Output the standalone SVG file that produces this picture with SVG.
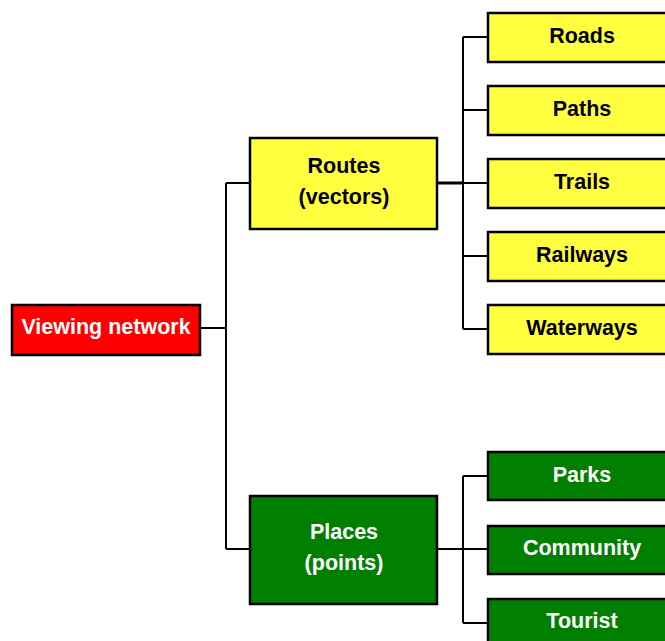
<svg xmlns="http://www.w3.org/2000/svg" width="665" height="641" viewBox="0 0 665 641">
<style>
.box{stroke:#000;stroke-width:2.5}
.y{fill:#FFFF40}
.r{fill:#FF0000}
.g{fill:#007F00}
text{font-family:"Liberation Sans",Arial,sans-serif;font-weight:bold;font-size:21.5px;text-anchor:middle}
.dk{fill:#000}
.wt{fill:#fff}
.c{fill:none;stroke:#000;stroke-width:2}
</style>
<rect width="665" height="641" fill="#fff"/>
<g id="connectors">
<path class="c" d="M200 328H226M226 183V549M226 183H250M226 549H250"/>
<path class="c" d="M437 183H488M463 37V329M463 37H488M463 110H488M463 256H488M463 329H488" />
<path class="c" d="M437 183H463" style="stroke-width:3"/>
<path class="c" d="M437 549H488M463 476V623M463 476H488M463 623H488"/>
</g>
<g id="viewing"><rect class="box r" x="12" y="305" width="188" height="50"/><text class="wt" x="106" y="334">Viewing network</text></g>
<g id="routes"><rect class="box y" x="250" y="138" width="187" height="91"/><text class="dk" x="344" y="173">Routes</text><text class="dk" x="344" y="204">(vectors)</text></g>
<g id="places"><rect class="box g" x="250" y="496" width="187" height="108"/><text class="wt" x="344" y="539">Places</text><text class="wt" x="344" y="570">(points)</text></g>
<g id="roads"><rect class="box y" x="488" y="13" width="188" height="49"/><text class="dk" x="582" y="43">Roads</text></g>
<g id="paths"><rect class="box y" x="488" y="86" width="188" height="49"/><text class="dk" x="582" y="116">Paths</text></g>
<g id="trails"><rect class="box y" x="488" y="159" width="188" height="49"/><text class="dk" x="582" y="189">Trails</text></g>
<g id="railways"><rect class="box y" x="488" y="232" width="188" height="49"/><text class="dk" x="582" y="262">Railways</text></g>
<g id="waterways"><rect class="box y" x="488" y="305" width="188" height="49"/><text class="dk" x="582" y="335">Waterways</text></g>
<g id="parks"><rect class="box g" x="488" y="452" width="188" height="48"/><text class="wt" x="582" y="482">Parks</text></g>
<g id="community"><rect class="box g" x="488" y="526" width="188" height="48"/><text class="wt" x="582" y="555">Community</text></g>
<g id="tourist"><rect class="box g" x="488" y="599" width="188" height="48"/><text class="wt" x="582" y="628">Tourist</text></g>
</svg>
